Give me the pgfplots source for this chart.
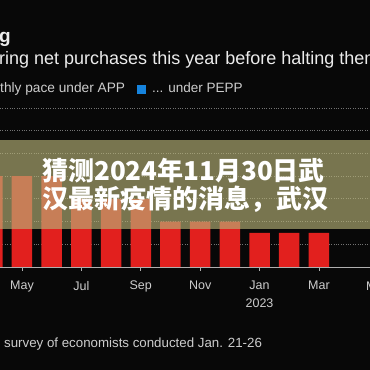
\documentclass[border=0pt]{standalone}
\usepackage{pgfplots}
\pgfplotsset{compat=1.18}
\usepackage{fontspec}
\setmainfont{Liberation Sans}
\newfontfamily\cjk{Noto Sans CJK SC}
\definecolor{bgc}{RGB}{8,8,8}
\definecolor{txt}{RGB}{236,236,236}
\definecolor{soft}{RGB}{205,205,205}
\definecolor{gridc}{RGB}{115,115,115}
\definecolor{axc}{RGB}{175,175,175}
\definecolor{barred}{RGB}{226,32,30}
\definecolor{pepp}{RGB}{22,132,222}
\definecolor{banner}{RGB}{184,180,120}
\begin{document}
\begin{tikzpicture}[x=1pt,y=1pt]
\fill[bgc] (0,0) rectangle (370,370);
\begin{axis}[
  at={(0pt,103pt)}, anchor=south west,
  scale only axis, width=370pt, height=159pt,
  xmin=0.26, xmax=12.72, ymin=0, ymax=70,
  axis x line*=bottom, axis y line*=left,
  y axis line style={draw=none},
  x axis line style={draw=axc, line width=0.8pt},
  ytick={0,10,...,70}, yticklabels={},
  ytick style={draw=none},
  ymajorgrids, grid style={gridc, dotted, line width=0.8pt},
  xtick={1,3,5,7,9,11},
  xticklabels={May,Jul,Sep,Nov,{Jan\\2023},Mar},
  tick align=outside, major tick length=4pt,
  xtick style={draw=axc, line width=0.8pt},
  xticklabel style={font=\fontsize{12.5}{18}\selectfont, text=soft, align=center, inner sep=0pt, yshift=-10pt},
  /pgf/number format/assume math mode=true,
  ybar, bar width=20.5pt,
]
\addplot[fill=barred, draw=none] coordinates {
(0,40) (1,40) (2,40) (3,30) (4,30) (5,30) (6,20) (7,20) (8,20) (9,15) (10,15) (11,15)};
\end{axis}
\fill[banner, opacity=0.64] (0,141) rectangle (370,230);
\node[anchor=base west, inner sep=0pt, text=txt, font=\fontsize{19}{22}\selectfont\bfseries] at (-1,327) {g};
\node[anchor=base west, inner sep=0pt, text=txt, font=\fontsize{18}{22}\selectfont] at (-1,305) {ring net purchases this year before halting them};
\node[anchor=base west, inner sep=0pt, text=soft, font=\fontsize{13.7}{16}\selectfont] at (0,277) {thly pace under APP};
\fill[pepp] (137,276) rectangle (146,285);
\node[anchor=base west, inner sep=0pt, text=soft, font=\fontsize{13.5}{16}\selectfont] at (152,277) {... under PEPP};
\node[anchor=base, inner sep=0pt, text=soft, font=\fontsize{12.5}{19}\selectfont] at (378,79) {May};
\node[anchor=base west, inner sep=0pt, text=soft, font=\fontsize{13.3}{16}\selectfont] at (4,22) {survey of economists conducted Jan. 21-26};
\node[anchor=base west, inner sep=0pt, text=white, font=\fontsize{26}{28}\selectfont\cjk\bfseries] at (42,189) {猜测2024年11月30日武};
\node[anchor=base west, inner sep=0pt, text=white, font=\fontsize{26}{28}\selectfont\cjk\bfseries] at (42,161) {汉最新疫情的消息，武汉};
\pgfresetboundingbox
\path[use as bounding box] (0,0) rectangle (370,370);
\end{tikzpicture}
\end{document}
